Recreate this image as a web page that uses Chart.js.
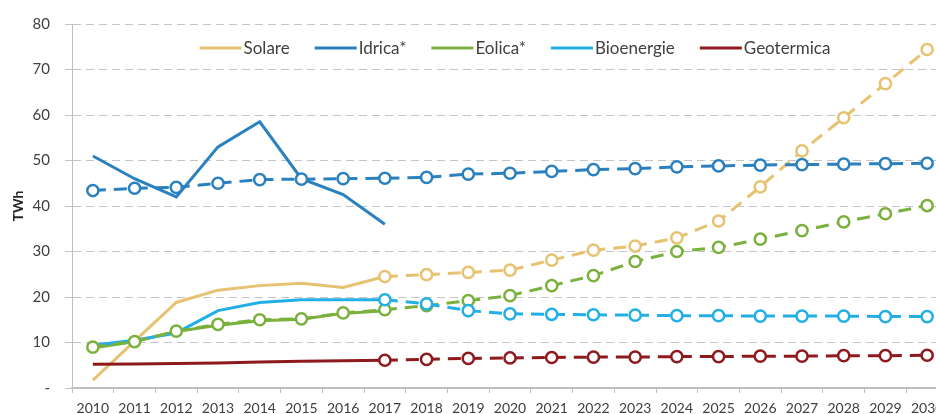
<!DOCTYPE html>
<html><head><meta charset="utf-8">
<script src="https://cdn.jsdelivr.net/npm/chart.js@4"></script>
<style>html,body{margin:0;padding:0;background:#fff;overflow:hidden;width:936px;height:414px}canvas{display:block}</style>
</head><body>
<canvas id="c" width="960" height="414" style="width:960px;height:414px"></canvas>
<script>
// ---- data ----
const years = ['2010','2011','2012','2013','2014','2015','2016','2017','2018','2019','2020','2021','2022','2023','2024','2025','2026','2027','2028','2029','2030'];
const yTickStep = 10, yMin = 0, yMax = 80;

// historic values 2010-2017
const solareHist = [1.7, 10.3, 18.8, 21.5, 22.5, 23.0, 22.1, 24.5];
const idricaHist = [51.0, 46.0, 42.0, 53.0, 58.5, 46.0, 42.5, 36.0];
const eolicaHist = [8.8, 10.2, 12.4, 13.8, 14.8, 15.1, 16.4, 17.0];
const bioHist    = [9.4, 10.5, 12.1, 17.0, 18.8, 19.4, 19.4, 19.4];
const geoHist    = [5.2, 5.3, 5.4, 5.5, 5.7, 5.9, 6.0, 6.1];

// projections
const idricaProj = [43.4, 43.9, 44.1, 45.0, 45.8, 45.9, 46.0, 46.1, 46.3, 47.0, 47.2, 47.6, 48.0, 48.2, 48.6, 48.8, 49.0, 49.1, 49.2, 49.3, 49.4]; // from 2010
const eolicaProj = [9.0, 10.2, 12.5, 14.0, 15.0, 15.2, 16.5, 17.2, 18.1, 19.2, 20.3, 22.5, 24.7, 27.8, 30.0, 30.9, 32.7, 34.6, 36.5, 38.3, 40.1]; // from 2010
const solareProj = [24.5, 24.9, 25.4, 25.9, 28.1, 30.3, 31.2, 33.0, 36.7, 44.2, 52.1, 59.4, 66.9, 74.4]; // from 2017
const bioProj    = [19.4, 18.5, 17.0, 16.3, 16.2, 16.1, 16.0, 15.9, 15.9, 15.8, 15.8, 15.8, 15.7, 15.7]; // from 2017
const geoProj    = [6.1, 6.3, 6.5, 6.6, 6.7, 6.8, 6.8, 6.9, 6.9, 7.0, 7.0, 7.1, 7.1, 7.2]; // from 2017

const labels = ['Solare', 'Idrica*', 'Eolica*', 'Bioenergie', 'Geotermica'];
const colors = ['#E6C271', '#2B80BF', '#7AB13D', '#22AFE6', '#8E1A1D'];

// ---- build ----
function pad(arr, start) {
  const out = new Array(years.length).fill(null);
  arr.forEach((v, i) => { out[start + i] = v; });
  return out;
}
const hist = [solareHist, idricaHist, eolicaHist, bioHist, geoHist];
const proj = [[solareProj, 7], [idricaProj, 0], [eolicaProj, 0], [bioProj, 7], [geoProj, 7]];

const datasets = [];
hist.forEach((h, i) => {
  datasets.push({
    label: labels[i], data: pad(h, 0), borderColor: colors[i], backgroundColor: colors[i],
    borderWidth: 3, pointRadius: 0, tension: 0, inLegend: true, order: 20 - i, spanGaps: false
  });
});
proj.forEach(([p, s], i) => {
  datasets.push({
    label: labels[i] + ' proj', data: pad(p, s), borderColor: colors[i], backgroundColor: '#ffffff',
    borderWidth: 3, borderDash: [13, 8], pointRadius: 5.6, pointBorderWidth: 2.5,
    pointBackgroundColor: '#ffffff', pointBorderColor: colors[i], tension: 0, inLegend: false, order: 10 - i
  });
});

const legendPlugin = {
  id: 'topLegend',
  afterDraw(chart) {
    const ctx = chart.ctx;
    const items = chart.data.datasets.filter(d => d.inLegend);
    ctx.save();
    ctx.font = '17px Lato';
    ctx.textBaseline = 'middle';
    const lineW = 42, gap = 2, space = 25;
    let total = 0;
    items.forEach((d, i) => { total += lineW + gap + ctx.measureText(d.label).width + (i ? space : 0); });
    let x = 515 - total / 2;
    const y = 48;
    items.forEach(d => {
      ctx.fillStyle = d.borderColor;
      ctx.fillRect(x, y - 1.5, lineW, 3);
      x += lineW + gap;
      ctx.fillStyle = '#404040';
      ctx.fillText(d.label, x, y + 1);
      x += ctx.measureText(d.label).width + space;
    });
    ctx.restore();
  }
};

new Chart(document.getElementById('c'), {
  type: 'line',
  data: { labels: years, datasets },
  options: {
    responsive: false, animation: false, devicePixelRatio: 1,
    layout: { padding: { top: 22, right: 12, left: 0, bottom: 0 } },
    plugins: { legend: { display: false }, tooltip: { enabled: false } },
    scales: {
      x: {
        offset: true,
        grid: { offset: true, drawOnChartArea: false, drawTicks: true, tickLength: 5, color: '#BFBFBF' },
        border: { display: true, color: '#BFBFBF', width: 2 },
        ticks: { autoSkip: false, maxRotation: 0, color: '#404040', font: { family: 'Lato', size: 14 }, padding: 7 },
        afterFit(scale) { scale.height = 26; }
      },
      y: {
        min: yMin, max: yMax,
        ticks: { stepSize: yTickStep, color: '#404040', font: { family: 'Lato', size: 15 }, padding: 15,
                 callback: v => v === 0 ? '-' : v },
        grid: { color: '#C4C4C4', tickLength: 7, tickBorderDash: [8, 5], tickColor: '#C4C4C4' },
        border: { display: true, color: '#BFBFBF', width: 1, dash: [8, 5] },
        title: { display: true, text: 'TWh', color: '#262626', font: { family: 'Lato', size: 14, weight: 'bold' }, padding: { top: 10, bottom: 0 } },
        afterFit(scale) { scale.width = 72; }
      }
    }
  },
  plugins: [legendPlugin]
});
</script>
</body></html>
